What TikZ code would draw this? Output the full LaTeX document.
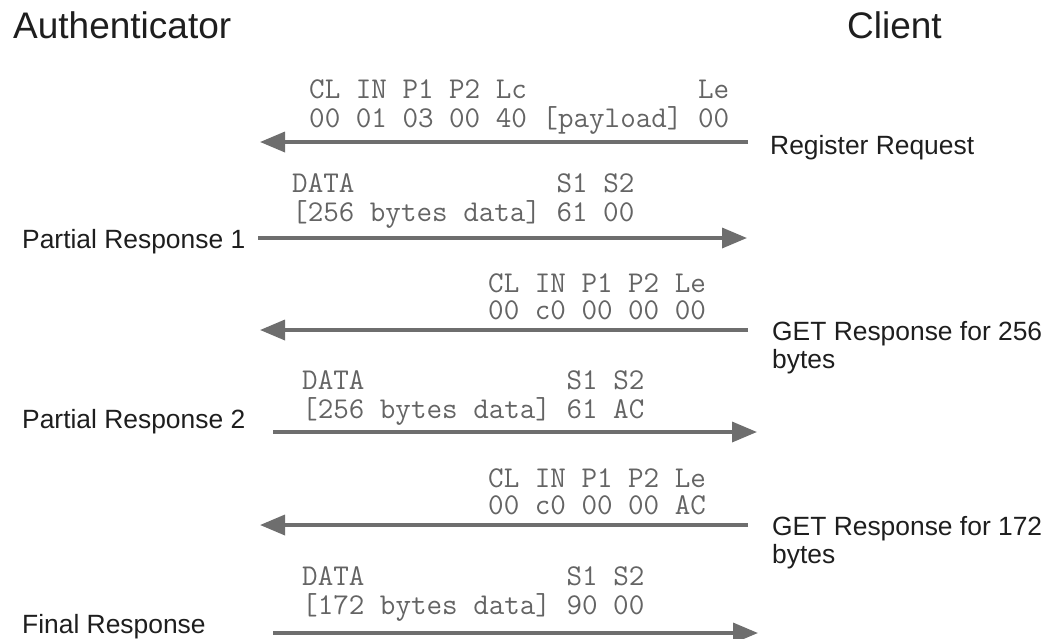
\documentclass[tikz,border=0pt]{standalone}
\usepackage{fontspec}
\setmainfont{Liberation Sans}
\usetikzlibrary{arrows.meta}
\definecolor{arrowgray}{HTML}{6E6E6E}
\definecolor{codegray}{HTML}{646464}
\definecolor{labelink}{HTML}{1E1E1E}
% two-line APDU block: field names above, bytes below
\newcommand{\apdu}[2]{\begin{tabular}[t]{@{}l@{}}#1\\\relax #2\end{tabular}}
\begin{document}
\begin{tikzpicture}[x=1pt,y=-1pt,
  title/.style={font=\fontsize{37}{40}\selectfont, text=labelink, inner sep=0pt, anchor=base west},
  lbl/.style={font=\fontsize{26.4}{30}\selectfont, text=labelink, inner sep=0pt, anchor=base west},
  code/.style={font=\ttfamily\fontsize{30.2}{27.5}\selectfont, text=codegray, inner sep=0pt, anchor=base west},
  msg/.style={draw=arrowgray, line width=3.5pt, -{Triangle[length=25pt,width=20pt]}}]
\useasboundingbox (0,0) rectangle (1050,638);

% column headings
\node[title] (auth) at (13,38) {Authenticator};
\node[title] (client) at (847,38) {Client};

% message end points
\coordinate (m1c) at (748,142); \coordinate (m1a) at (260,142);
\coordinate (m2a) at (258,238); \coordinate (m2c) at (747,238);
\coordinate (m3c) at (748,330); \coordinate (m3a) at (260,330);
\coordinate (m4a) at (273,432); \coordinate (m4c) at (757,432);
\coordinate (m5c) at (748,525); \coordinate (m5a) at (260,525);
\coordinate (m6a) at (273,633); \coordinate (m6c) at (758,633);

% 1: register request
\node[code] (c1) at (309,98)
  {\apdu{CL IN P1 P2 Lc\ \hphantom{[payload]}\ Le}{00 01 03 00 40 [payload] 00}};
\node[lbl] (l1) at (770,154) {Register Request};
\draw[msg] (m1c) -- (m1a);

% 2: first partial response
\node[code] (c2) at (292,192)
  {\apdu{DATA\hphantom{ bytes data]} S1 S2}{[256 bytes data] 61 00}};
\node[lbl] (l2) at (22,248) {Partial Response 1};
\draw[msg] (m2a) -- (m2c);

% 3: GET response, 256 bytes
\node[code] (c3) at (488,292) {\apdu{CL IN P1 P2 Le}{00 c0 00 00 00}};
\node[lbl] (l3) at (772,340) {GET Response for 256};
\node[lbl] (l3b) at (772,368) {bytes};
\draw[msg] (m3c) -- (m3a);

% 4: second partial response
\node[code] (c4) at (302,389)
  {\apdu{DATA\hphantom{ bytes data]} S1 S2}{[256 bytes data] 61 AC}};
\node[lbl] (l4) at (22,428) {Partial Response 2};
\draw[msg] (m4a) -- (m4c);

% 5: GET response, 172 bytes
\node[code] (c5) at (488,487) {\apdu{CL IN P1 P2 Le}{00 c0 00 00 AC}};
\node[lbl] (l5) at (772,535) {GET Response for 172};
\node[lbl] (l5b) at (772,563) {bytes};
\draw[msg] (m5c) -- (m5a);

% 6: final response
\node[code] (c6) at (302,585)
  {\apdu{DATA\hphantom{ bytes data]} S1 S2}{[172 bytes data] 90 00}};
\node[lbl] (l6) at (22,633) {Final Response};
\draw[msg] (m6a) -- (m6c);
\end{tikzpicture}
\end{document}
